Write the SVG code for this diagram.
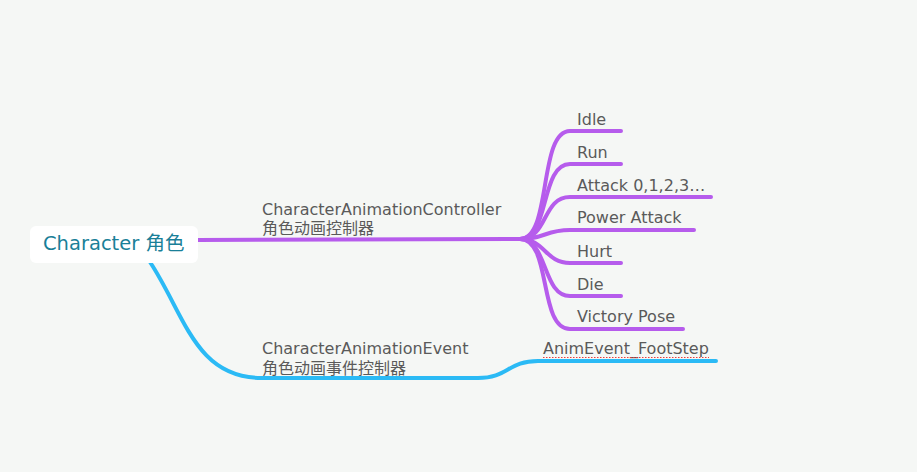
<svg xmlns="http://www.w3.org/2000/svg" width="917" height="472" viewBox="0 0 917 472">
<style>
.bg{fill:#f5f7f5}
.p{fill:none;stroke:#b65cec;stroke-width:4;stroke-linecap:round}
.b{fill:none;stroke:#2bbaf5;stroke-width:4;stroke-linecap:round}
.t{font-family:"DejaVu Sans","Noto Sans CJK SC",sans-serif;font-size:16px;fill:#5a5a5a}
.r{font-family:"DejaVu Sans","Noto Sans CJK SC",sans-serif;font-size:19.5px;fill:#1a7f98}
</style>
<rect class="bg" x="0" y="0" width="917" height="472"/>
<g id="connectors">
<path class="p" d="M198,240 L520,239"/>
<path class="p" d="M520,239 C552,239 538,131 570,131 L621,131"/>
<path class="p" d="M520,239 C550,239 540,164 570,164 L621,164"/>
<path class="p" d="M520,239 C548,239 542,197 570,197 L711,197"/>
<path class="p" d="M520,239 C545,239 545,230 570,230 L694,230"/>
<path class="p" d="M520,239 C545,239 545,263 570,263 L621,263"/>
<path class="p" d="M520,239 C548,239 542,296 570,296 L621,296"/>
<path class="p" d="M520,239 C552,239 538,329 570,329 L683,329"/>
<path class="b" d="M150,262 C185,315 195,378 262,378 L478,378 C508,378 508,361 538,361 L716,361"/>
</g>
<g id="root">
<rect x="30" y="226" width="168" height="37" rx="6" fill="#ffffff"/>
<text class="r" x="43" y="250">Character 角色</text>
</g>
<g id="controller">
<text class="t" x="262" y="215">CharacterAnimationController</text>
<text class="t" x="262" y="234">角色动画控制器</text>
</g>
<g id="event">
<text class="t" x="262" y="354">CharacterAnimationEvent</text>
<text class="t" x="262" y="374">角色动画事件控制器</text>
</g>
<g id="idle"><text class="t" x="577" y="125">Idle</text></g>
<g id="run"><text class="t" x="577" y="158">Run</text></g>
<g id="attack"><text class="t" x="577" y="191">Attack 0,1,2,3…</text></g>
<g id="power"><text class="t" x="577" y="223">Power Attack</text></g>
<g id="hurt"><text class="t" x="577" y="257">Hurt</text></g>
<g id="die"><text class="t" x="577" y="290">Die</text></g>
<g id="victory"><text class="t" x="577" y="322">Victory Pose</text></g>
<g id="footstep">
<text class="t" x="543" y="354">AnimEvent_FootStep</text>
<line x1="543" y1="357.5" x2="709" y2="357.5" stroke="#e83c3c" stroke-width="1.2" stroke-dasharray="1.5,1.5"/>
</g>
</svg>
